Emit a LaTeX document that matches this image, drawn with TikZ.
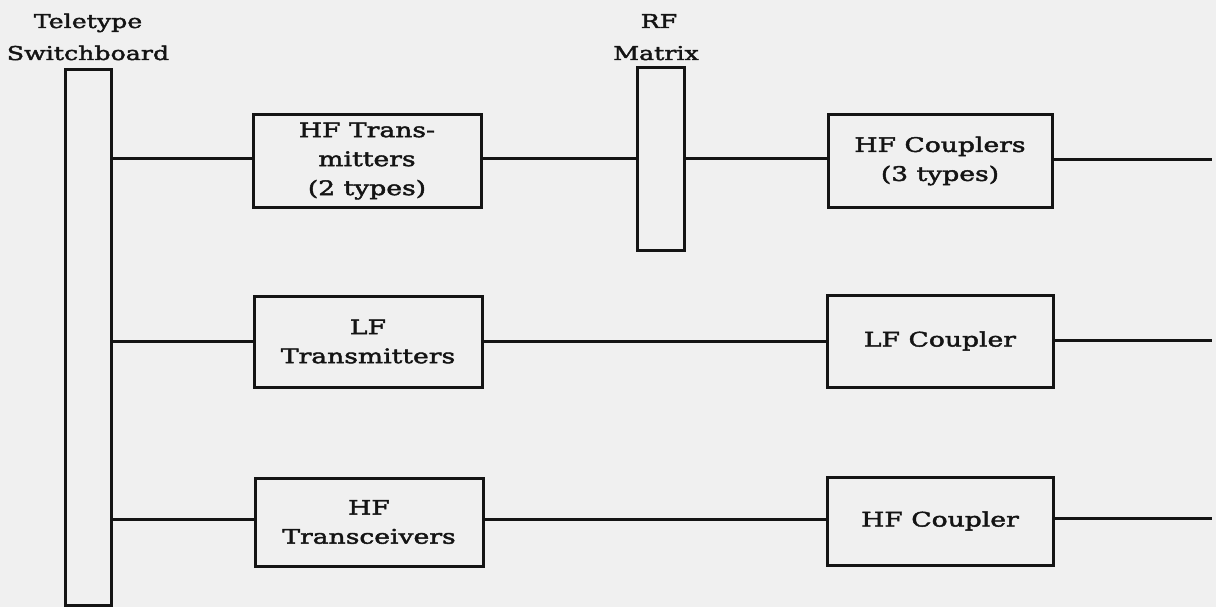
\documentclass[tikz,border=0pt]{standalone}
\usepackage{fontspec}
\setmainfont[FakeStretch=1.33,FakeBold=2.2]{DejaVu Serif}
\definecolor{ink}{HTML}{141414}
\definecolor{paper}{HTML}{F0F0F0}
\newcommand{\lblfont}{\fontsize{20}{29}\selectfont}
\newcommand{\ttlfont}{\fontsize{19}{29}\selectfont}
\begin{document}
\begin{tikzpicture}[x=1pt,y=-1pt,
  box/.style={draw=ink, line width=3pt, fill=paper, inner sep=0pt, align=center, font=\lblfont, text=ink},
  wire/.style={draw=ink, line width=3pt},
  title/.style={anchor=base, inner sep=0pt, font=\ttlfont, text=ink}]
\fill[paper] (0,0) rectangle (1216,607);
\useasboundingbox (0,0) rectangle (1216,607);
% switchboard and matrix
\node[box, minimum width=46pt, minimum height=535pt] (sw) at (88,337.5) {};
\node[box, minimum width=47pt, minimum height=182pt] (rf) at (660.5,159) {};
% boxes
\node[box, minimum width=228pt, minimum height=92pt] (hft) at (367,161) {HF Trans-\\mitters\\(2 types)};
\node[box, minimum width=224pt, minimum height=92pt] (hfc) at (940,161) {HF Couplers\\(3 types)};
\node[box, minimum width=228pt, minimum height=91pt] (lft) at (368,341.5) {LF\\Transmitters};
\node[box, minimum width=226pt, minimum height=92pt] (lfc) at (940,341) {LF Coupler};
\node[box, minimum width=228pt, minimum height=88pt] (hftr) at (369,522) {HF\\Transceivers};
\node[box, minimum width=226pt, minimum height=88pt] (hfcp) at (940,521) {HF Coupler};
% titles
\node[title] (t1) at (88,28) {Teletype};
\node[title] (t2) at (88,60) {Switchboard};
\node[title] (t3) at (659,28) {RF};
\node[title] (t4) at (656,60) {Matrix};
% free ends
\coordinate (e1) at (1212,160);
\coordinate (e2) at (1212,340);
\coordinate (e3) at (1212,518);
% wires
\draw[wire] (sw.east |- 0,159) -- (hft.west |- 0,159);
\draw[wire] (hft.east |- 0,159) -- (rf.west |- 0,159);
\draw[wire] (rf.east |- 0,159) -- (hfc.west |- 0,159);
\draw[wire] (hfc.east |- e1) -- (e1);
\draw[wire] (sw.east |- 0,341) -- (lft.west |- 0,341);
\draw[wire] (lft.east |- 0,341) -- (lfc.west |- 0,341);
\draw[wire] (lfc.east |- e2) -- (e2);
\draw[wire] (sw.east |- 0,519) -- (hftr.west |- 0,519);
\draw[wire] (hftr.east |- 0,519) -- (hfcp.west |- 0,519);
\draw[wire] (hfcp.east |- e3) -- (e3);
\end{tikzpicture}
\end{document}
